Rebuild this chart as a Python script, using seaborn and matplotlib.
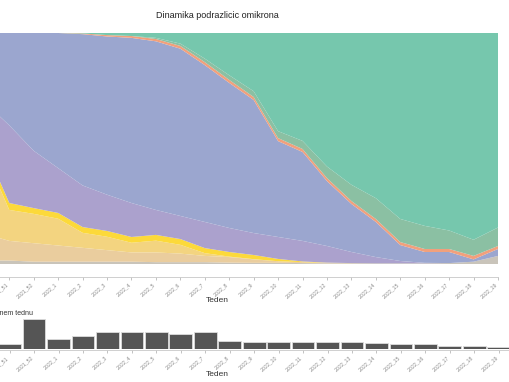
import matplotlib
matplotlib.use("Agg")
import matplotlib.pyplot as plt
import seaborn as sns

weeks = ["2021_48", "2021_49", "2021_50", "2021_51", "2021_52",
         "2022_1", "2022_2", "2022_3", "2022_4", "2022_5", "2022_6",
         "2022_7", "2022_8", "2022_9", "2022_10", "2022_11", "2022_12",
         "2022_13", "2022_14", "2022_15", "2022_16", "2022_17", "2022_18",
         "2022_19"]

# delez posameznih podrazlicic (v %), od spodaj navzgor
drugo = [2, 2, 1.5, 1.5, 1, 1, 1, 1, 1, 0.8, 0.8, 0.8, 0.6, 0.5, 0.5, 0.4,
         0.3, 0.3, 0.3, 0.3, 0.3, 0.4, 1, 3.5]
ba1_1_1 = [18, 15, 11.5, 8.5, 8, 7, 6, 5, 4, 4.2, 3.7, 2.7, 2.4, 1.5, 0.7,
           0.4, 0.2, 0.1, 0, 0, 0, 0, 0, 0]
ay = [69, 65, 34.5, 13.4, 12.7, 11.6, 6.5, 5.8, 4.2, 5.1, 3.8, 1.2, 0.2,
      0.1, 0, 0, 0, 0, 0, 0, 0, 0, 0, 0]
delta = [3, 3, 3, 3, 2.5, 2.5, 2.5, 2.5, 2.5, 2.5, 2.5, 2.2, 2, 1.8, 1, 0.3,
         0.1, 0, 0, 0, 0, 0, 0, 0]
ba1 = [5, 5, 19.5, 33.6, 24.8, 19.4, 18, 15.7, 14.7, 10.8, 10, 11.3, 10.4,
       9.5, 9.5, 8.9, 7.2, 4.8, 2.7, 1, 0.2, 0, 0, 0]
ba1_1 = [3, 10, 30, 40, 51, 58.5, 65.5, 68.5, 71.5, 73, 72.4, 67.9, 62.8,
         57.6, 41.5, 38.5, 28.1, 20.8, 15.2, 6.9, 4.7, 4.8, 1, 3]
ba2_3 = [0, 0, 0, 0, 0, 0, 0.3, 0.6, 0.8, 1, 1.2, 1.3, 1.3, 1.3, 1.3, 1.3,
         1.3, 1.3, 1.3, 1.3, 1.3, 1.3, 1.5, 1.3]
ba2_9 = [0, 0, 0, 0, 0, 0, 0, 0, 0, 0.5, 1, 1.5, 2, 2.5, 3, 3.5, 5, 7, 9,
         10, 10, 8, 7, 8]
ba2 = [0, 0, 0, 0, 0, 0, 0.2, 0.9, 1.3, 2.1, 4.6, 11.1, 18.3, 25.2, 42.5,
       46.7, 57.8, 65.7, 71.5, 80.5, 83.5, 85.5, 89.5, 84.2]

# stevilo vzorcev na teden
vzorci = [40, 45, 45, 50, 300, 100, 130, 170, 170, 170, 150, 170, 80, 70,
          70, 70, 70, 70, 60, 50, 50, 30, 27, 20]

barve = ["#c9c4ba", "#eacd9e", "#f3d480", "#fcd93a", "#aba1cd", "#9ba6cf",
         "#f1a07c", "#8bc0a3", "#76c7ad"]

sns.set_theme(style="white")
plt.rcParams["font.family"] = ["Liberation Sans", "DejaVu Sans"]

fig = plt.figure(figsize=(5.1, 3.82), dpi=100)
W, H = 510, 382
x = list(range(len(weeks)))


def uredi_os(ax, odmik):
    sns.despine(ax=ax, left=True)
    ax.spines["bottom"].set_position(("outward", odmik))
    ax.spines["bottom"].set_color("#c8c8c8")
    ax.spines["bottom"].set_linewidth(0.6)
    ax.set_yticks([])
    ax.set_ylabel("")
    ax.set_xticks(x)
    ax.set_xticklabels(weeks)
    ax.tick_params(axis="x", length=2.5, width=0.5, color="#aaaaaa",
                   labelsize=3.8, labelcolor="#8a8a8a", pad=1, bottom=True,
                   labelrotation=42)
    for lab in ax.get_xticklabels():
        lab.set_ha("right")
    ax.set_xlabel("Teden", fontsize=6, color="#333333", labelpad=-1.5)


# zgornji graf - deleži
ax1 = fig.add_axes([-64 / W, 1 - 264 / H, 562 / W, 231 / H])
ax1.stackplot(x, drugo, ba1_1_1, ay, delta, ba1, ba1_1, ba2_3, ba2_9, ba2,
              colors=barve, linewidth=0)
ax1.set_xlim(0, len(weeks) - 1)
ax1.set_ylim(0, 100)
uredi_os(ax1, 9.5)

fig.text(217.5 / W, 1 - 16 / H, "Dinamika podrazlicic omikrona",
         ha="center", va="center", fontsize=6.5, color="#222222")

# spodnji graf - stevilo vzorcev
ax2 = fig.add_axes([-76 / W, 1 - 349 / H, 587 / W, 33 / H])
sns.barplot(x=weeks, y=vzorci, color="#555555", saturation=1, width=0.93,
            edgecolor="#dddddd", linewidth=0.6, ax=ax2)
ax2.set_xlim(-0.5, len(weeks) - 0.5)
ax2.set_ylim(0, 330)
uredi_os(ax2, 1)
ax2.set_title("Stevilo vzorcev v dolocenem tednu", loc="left", fontsize=5,
              color="#333333", pad=1)

fig.savefig("out.png", dpi=100)
